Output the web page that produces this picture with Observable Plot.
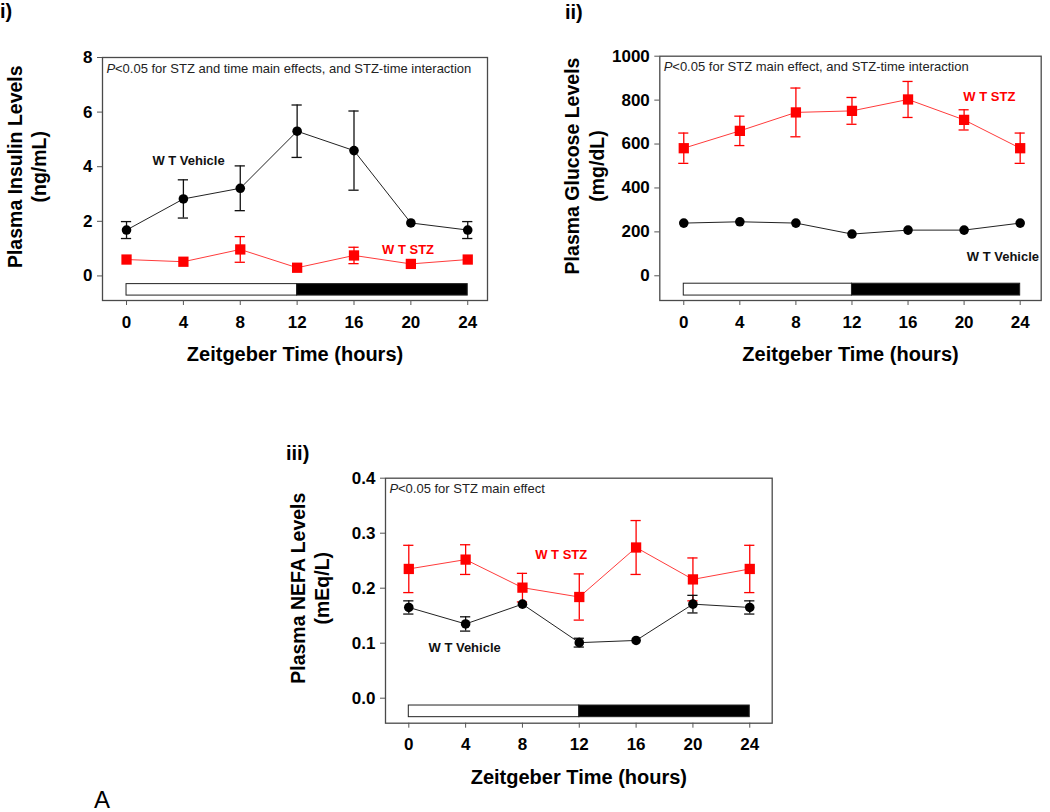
<!DOCTYPE html>
<html><head><meta charset="utf-8">
<script src="https://cdn.jsdelivr.net/npm/d3@7"></script>
<script src="https://cdn.jsdelivr.net/npm/@observablehq/plot@0.6"></script>
<style>
body{margin:0;background:#fff;font-family:"Liberation Sans",Arial,sans-serif;}
#root{position:relative;width:1050px;height:812px;overflow:hidden;background:#fff;}
.panel{position:absolute;}
.lbl{position:absolute;font-weight:bold;font-size:20px;line-height:20px;color:#000;}
.big{position:absolute;font-size:24px;line-height:24px;color:#000;}
</style></head><body>
<div id="root">
  <div class="panel" id="p1" style="left:0;top:0"></div>
  <div class="panel" id="p2" style="left:520px;top:0"></div>
  <div class="panel" id="p3" style="left:270px;top:440px"></div>
  <div class="lbl" style="left:0;top:1px">i)</div>
  <div class="lbl" style="left:565px;top:2px">ii)</div>
  <div class="lbl" style="left:286px;top:443px">iii)</div>
  <div class="big" style="left:94px;top:788px">A</div>
</div>
<script>
// ---- Data ----
const hours = [0, 4, 8, 12, 16, 20, 24];
const xTicks = [0, 4, 8, 12, 16, 20, 24];

const insulinVehicle   = [1.68, 2.82, 3.21, 5.30, 4.59, 1.94, 1.68];
const insulinVehicleSE = [0.31, 0.70, 0.82, 0.96, 1.45, 0, 0.31];
const insulinSTZ       = [0.60, 0.52, 0.97, 0.30, 0.75, 0.44, 0.60];
const insulinSTZSE     = [0, 0, 0.47, 0, 0.30, 0, 0];
const insulinTicks     = [0, 2, 4, 6, 8];

const glucoseVehicle   = [240, 246, 240, 190, 208, 208, 240];
const glucoseVehicleSE = [0, 0, 0, 0, 0, 0, 0];
const glucoseSTZ       = [581, 660, 744, 751, 803, 710, 581];
const glucoseSTZSE     = [69, 67, 111, 61, 82, 46, 69];
const glucoseTicks     = [0, 200, 400, 600, 800, 1000];

const nefaVehicle   = [0.165, 0.135, 0.171, 0.101, 0.105, 0.171, 0.165];
const nefaVehicleSE = [0.012, 0.013, 0, 0.008, 0, 0.016, 0.012];
const nefaSTZ       = [0.235, 0.252, 0.201, 0.184, 0.274, 0.216, 0.235];
const nefaSTZSE     = [0.043, 0.027, 0.026, 0.042, 0.049, 0.039, 0.043];
const nefaTicks     = [0, 0.1, 0.2, 0.3, 0.4];

const lightPeriod = [{start: 0, end: 12}];
const darkPeriod  = [{start: 12, end: 24}];

const xTitle = "Zeitgeber Time (hours)";
const vehicleName = "W T Vehicle";
const stzName = "W T STZ";

function makePanel(cfg) {
  const veh = hours.map((t, i) => ({t, v: cfg.veh[i], se: cfg.vehSE[i]}));
  const stz = hours.map((t, i) => ({t, v: cfg.stz[i], se: cfg.stzSE[i]}));
  const vehE = veh.filter(d => d.se > 0);
  const stzE = stz.filter(d => d.se > 0);
  const cap = 0.36;
  const red = "#ff0000";
  const redLine = "#ff3b3b";
  const blk = "#111";
  const errMarks = (arr, color) => [
    Plot.ruleX(arr, {x: "t", y1: d => d.v - d.se, y2: d => d.v + d.se, stroke: color, strokeWidth: 1.3}),
    Plot.ruleY(arr, {y: d => d.v + d.se, x1: d => d.t - cap, x2: d => d.t + cap, stroke: color, strokeWidth: 1.3}),
    Plot.ruleY(arr, {y: d => d.v - d.se, x1: d => d.t - cap, x2: d => d.t + cap, stroke: color, strokeWidth: 1.3})
  ];
  return Plot.plot({
    width: cfg.width, height: cfg.height,
    marginLeft: cfg.ml, marginRight: cfg.mr, marginTop: cfg.mt, marginBottom: cfg.mb,
    x: {domain: cfg.xDomain},
    y: {domain: cfg.yDomain},
    style: {fontFamily: "'Liberation Sans', Arial, sans-serif", background: "transparent", color: "black", overflow: "visible"},
    marks: [
      Plot.rect(lightPeriod, {x1: "start", x2: "end", y1: () => cfg.bar[0], y2: () => cfg.bar[1], fill: "white", stroke: "#222", strokeWidth: 1}),
      Plot.rect(darkPeriod, {x1: "start", x2: "end", y1: () => cfg.bar[0], y2: () => cfg.bar[1], fill: "black", stroke: "#222", strokeWidth: 1}),
      ...errMarks(stzE, red),
      Plot.line(stz, {x: "t", y: "v", stroke: redLine, strokeWidth: 1}),
      Plot.dot(stz, {x: "t", y: "v", symbol: "square", r: 5.8, fill: red, stroke: "none"}),
      ...errMarks(vehE, blk),
      Plot.line(veh, {x: "t", y: "v", stroke: "#222", strokeWidth: 1}),
      Plot.dot(veh, {x: "t", y: "v", r: 4.8, fill: "black", stroke: "none"}),
      Plot.frame({stroke: "#4a4a4a", strokeWidth: 1.3}),
      Plot.axisY(cfg.yTicks, {tickSize: 5, tickPadding: 5, fontSize: 17, fontWeight: "bold", stroke: "#555", fill: "black", tickFormat: cfg.fmt, label: null}),
      Plot.axisX(xTicks, {tickSize: 5, tickPadding: 10, fontSize: 17, fontWeight: "bold", stroke: "#555", fill: "black", label: null}),
      Plot.text([xTitle], {frameAnchor: "bottom", dy: 54, fontSize: 20, fontWeight: "bold", lineAnchor: "middle"}),
      Plot.text([cfg.yTitle], {x: () => cfg.xDomain[0], y: () => cfg.yMid, dx: -76, rotate: -90, fontSize: 19.5, fontWeight: "bold", lineHeight: 1.25, lineAnchor: "middle", textAnchor: "middle"}),
      Plot.text(["P"], {frameAnchor: "top-left", dx: 4, dy: 11, fontSize: 13, fontStyle: "italic", textAnchor: "start", lineAnchor: "middle", fill: "#222"}),
      Plot.text([cfg.pText], {frameAnchor: "top-left", dx: 12.5, dy: 11, fontSize: 13, textAnchor: "start", lineAnchor: "middle", fill: "#222"}),
      Plot.text([cfg.vehLabel], {x: "t", y: "v", text: () => vehicleName, fontSize: 13, fontWeight: "bold", fill: "#111"}),
      Plot.text([cfg.stzLabel], {x: "t", y: "v", text: () => stzName, fontSize: 13, fontWeight: "bold", fill: red})
    ]
  });
}

document.getElementById("p1").append(makePanel({
  width: 500, height: 370, ml: 102, mr: 13, mt: 57, mb: 70,
  xDomain: [-1.69, 25.39], yDomain: [-0.9, 8], yMid: 4, bar: [-0.3, -0.72],
  veh: insulinVehicle, vehSE: insulinVehicleSE, stz: insulinSTZ, stzSE: insulinSTZSE,
  yTicks: insulinTicks, fmt: d3.format("d"),
  yTitle: "Plasma Insulin Levels\n(ng/mL)",
  pText: "<0.05 for STZ and time main effects, and STZ-time interaction",
  vehLabel: {t: 4.36, v: 4.2}, stzLabel: {t: 19.8, v: 0.96}
}));

document.getElementById("p2").append(makePanel({
  width: 530, height: 370, ml: 139.3, mr: 9.3, mt: 55.7, mb: 70,
  xDomain: [-1.71, 25.5], yDomain: [-112.5, 1000], yMid: 500, bar: [-36, -90],
  veh: glucoseVehicle, vehSE: glucoseVehicleSE, stz: glucoseSTZ, stzSE: glucoseSTZSE,
  yTicks: glucoseTicks, fmt: d3.format("d"),
  yTitle: "Plasma Glucose Levels\n(mg/dL)",
  pText: "<0.05 for STZ main effect, and STZ-time interaction",
  vehLabel: {t: 22.77, v: 85}, stzLabel: {t: 21.8, v: 813}
}));

document.getElementById("p3").append(makePanel({
  width: 520, height: 372, ml: 115, mr: 18.3, mt: 37.7, mb: 89.3,
  xDomain: [-1.64, 25.58], yDomain: [-0.04545, 0.4], yMid: 0.2, bar: [-0.0133, -0.0345],
  veh: nefaVehicle, vehSE: nefaVehicleSE, stz: nefaSTZ, stzSE: nefaSTZSE,
  yTicks: nefaTicks, fmt: d3.format(".1f"),
  yTitle: "Plasma NEFA Levels\n(mEq/L)",
  pText: "<0.05 for STZ main effect",
  vehLabel: {t: 3.93, v: 0.091}, stzLabel: {t: 10.73, v: 0.2607}
}));
</script>
</body></html>
